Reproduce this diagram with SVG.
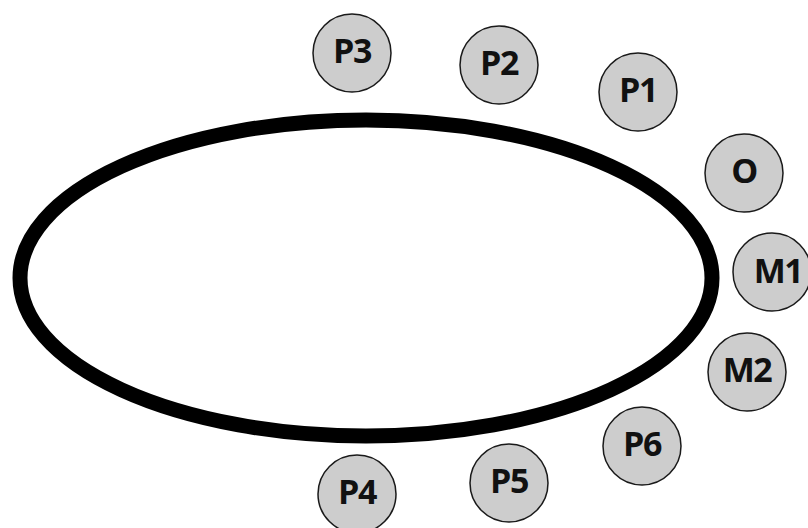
<svg xmlns="http://www.w3.org/2000/svg" width="808" height="528" viewBox="0 0 808 528">
  <style>
    .ring { fill: none; stroke: #000; stroke-width: 15; }
    .node circle { fill: #cdcdcd; stroke: #1a1a1a; stroke-width: 1.5; }
    .node text { font-family: "Open Sans", "Liberation Sans", sans-serif; font-weight: 700; font-size: 34px; letter-spacing: -1.5px; fill: #111; text-anchor: middle; }
  </style>
  <rect width="808" height="528" fill="#fff"/>
  <g id="connectors">
    <ellipse class="ring" cx="366" cy="278" rx="346" ry="158"/>
  </g>
  <g id="P3" class="node"><circle cx="352" cy="53" r="39"/><text x="352" y="63">P3</text></g>
  <g id="P2" class="node"><circle cx="499" cy="65" r="39"/><text x="499" y="75">P2</text></g>
  <g id="P1" class="node"><circle cx="638" cy="92" r="39"/><text x="638" y="102">P1</text></g>
  <g id="O" class="node"><circle cx="744" cy="173" r="39"/><text x="744" y="183">O</text></g>
  <g id="M1" class="node"><circle cx="772" cy="272" r="39"/><text x="778" y="283">M1</text></g>
  <g id="M2" class="node"><circle cx="747" cy="372" r="39"/><text x="747" y="382">M2</text></g>
  <g id="P6" class="node"><circle cx="642" cy="446" r="39"/><text x="642" y="456">P6</text></g>
  <g id="P5" class="node"><circle cx="509" cy="483" r="39"/><text x="509" y="493">P5</text></g>
  <g id="P4" class="node"><circle cx="357" cy="494" r="39"/><text x="357" y="504">P4</text></g>
</svg>
